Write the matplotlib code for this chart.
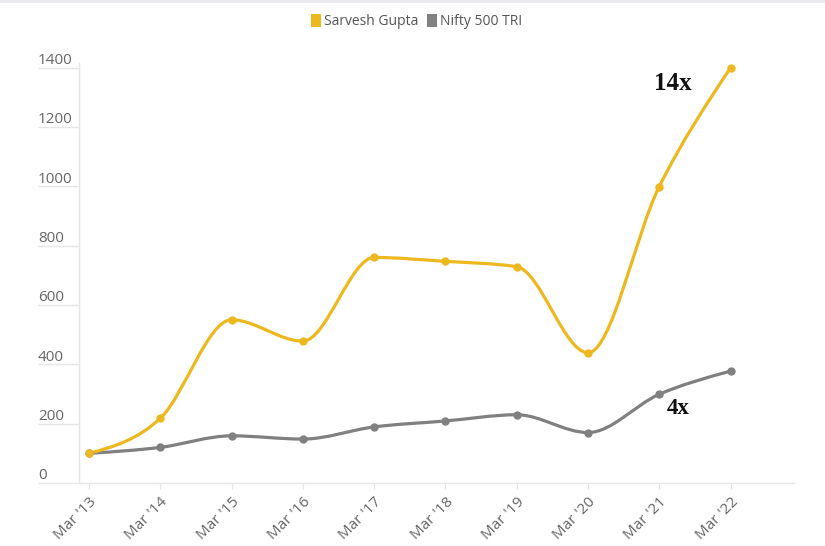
import numpy as np
import matplotlib
matplotlib.use("Agg")
import matplotlib.pyplot as plt
from matplotlib.path import Path
from matplotlib.patches import PathPatch, Patch, Rectangle
from matplotlib.transforms import ScaledTranslation

years = ["Mar '13", "Mar '14", "Mar '15", "Mar '16", "Mar '17",
         "Mar '18", "Mar '19", "Mar '20", "Mar '21", "Mar '22"]
sarvesh = [100, 218, 550, 478, 760, 747, 729, 439, 999, 1399]
nifty = [100, 120, 159, 148, 189, 209, 230, 170, 299, 377]
y_ticks = [0, 200, 400, 600, 800, 1000, 1200, 1400]

YELLOW = "#EDB81E"
GREY = "#808080"
TEXT = "#666666"
LIGHT = "#e6e6e6"

plt.rcParams["font.family"] = ["Open Sans", "DejaVu Sans"]


def monotone_path(x, y):
    # monotone cubic (like d3 curveMonotoneX) as bezier segments
    x = np.asarray(x, float)
    y = np.asarray(y, float)
    h = np.diff(x)
    s = np.diff(y) / h
    n = len(x)
    t = np.zeros(n)
    for i in range(1, n - 1):
        p = (s[i - 1] * h[i] + s[i] * h[i - 1]) / (h[i - 1] + h[i])
        t[i] = (np.sign(s[i - 1]) + np.sign(s[i])) * min(abs(s[i - 1]), abs(s[i]), 0.5 * abs(p))
    t[0] = (3 * s[0] - t[1]) / 2
    t[-1] = (3 * s[-1] - t[-2]) / 2
    verts = [(x[0], y[0])]
    codes = [Path.MOVETO]
    for i in range(n - 1):
        d = h[i] / 3
        verts += [(x[i] + d, y[i] + d * t[i]),
                  (x[i + 1] - d, y[i + 1] - d * t[i + 1]),
                  (x[i + 1], y[i + 1])]
        codes += [Path.CURVE4] * 3
    return Path(verts, codes)


fig = plt.figure(figsize=(8.25, 5.46), dpi=100)
ax = fig.add_axes([0.0958, 0.1154, 0.8666, 0.769])

xs = np.arange(len(years))
for vals, col in [(nifty, GREY), (sarvesh, YELLOW)]:
    ax.add_patch(PathPatch(monotone_path(xs, vals), fill=False, edgecolor=col,
                           lw=2.3, capstyle="round", joinstyle="round"))
    ax.plot(xs, vals, "o", color=col, ms=5, ls="none", clip_on=False)

ax.set_xlim(-0.14, 9.89)
ax.set_ylim(0, 1415)

for side in ["top", "right"]:
    ax.spines[side].set_visible(False)
for side in ["left", "bottom"]:
    ax.spines[side].set_color(LIGHT)
    ax.spines[side].set_linewidth(1)

ax.set_xticks(xs)
ax.set_xticklabels(years, rotation=45, ha="right", rotation_mode="anchor")
ax.tick_params(axis="x", length=4, color=LIGHT, labelcolor=TEXT, labelsize=11, pad=4)

ax.set_yticks(y_ticks)
ax.set_yticklabels([str(v) for v in y_ticks])
ax.tick_params(axis="y", length=29.5, width=1, color=LIGHT, labelcolor=TEXT, labelsize=11, pad=0)
shift = ScaledTranslation(0, 6.5 / 72, fig.dpi_scale_trans)
for lab in ax.get_yticklabels():
    lab.set_ha("left")
    lab.set_transform(lab.get_transform() + shift)

ax.text(8.19, 1345, "14x", fontsize=18, fontweight="bold", family="Liberation Serif",
        ha="center", va="center", color="#111111")
ax.text(8.27, 252, "4x", fontsize=16.5, fontweight="bold", family="Liberation Serif",
        ha="center", va="center", color="#111111")

handles = [Patch(facecolor=YELLOW, edgecolor="none", label="Sarvesh Gupta"),
           Patch(facecolor=GREY, edgecolor="none", label="Nifty 500 TRI")]
leg = fig.legend(handles=handles, loc="center", bbox_to_anchor=(0.505, 1 - 21.7 / 546),
                 ncol=2, frameon=False, fontsize=10, handlelength=0.7, handleheight=1.1,
                 handletextpad=0.25, columnspacing=0.6)
for t in leg.get_texts():
    t.set_color("#555555")

fig.patches.append(Rectangle((0, 1 - 3 / 546), 1, 3 / 546, transform=fig.transFigure,
                             facecolor="#ebecf0", edgecolor="none"))

fig.savefig("out.png", dpi=100)
